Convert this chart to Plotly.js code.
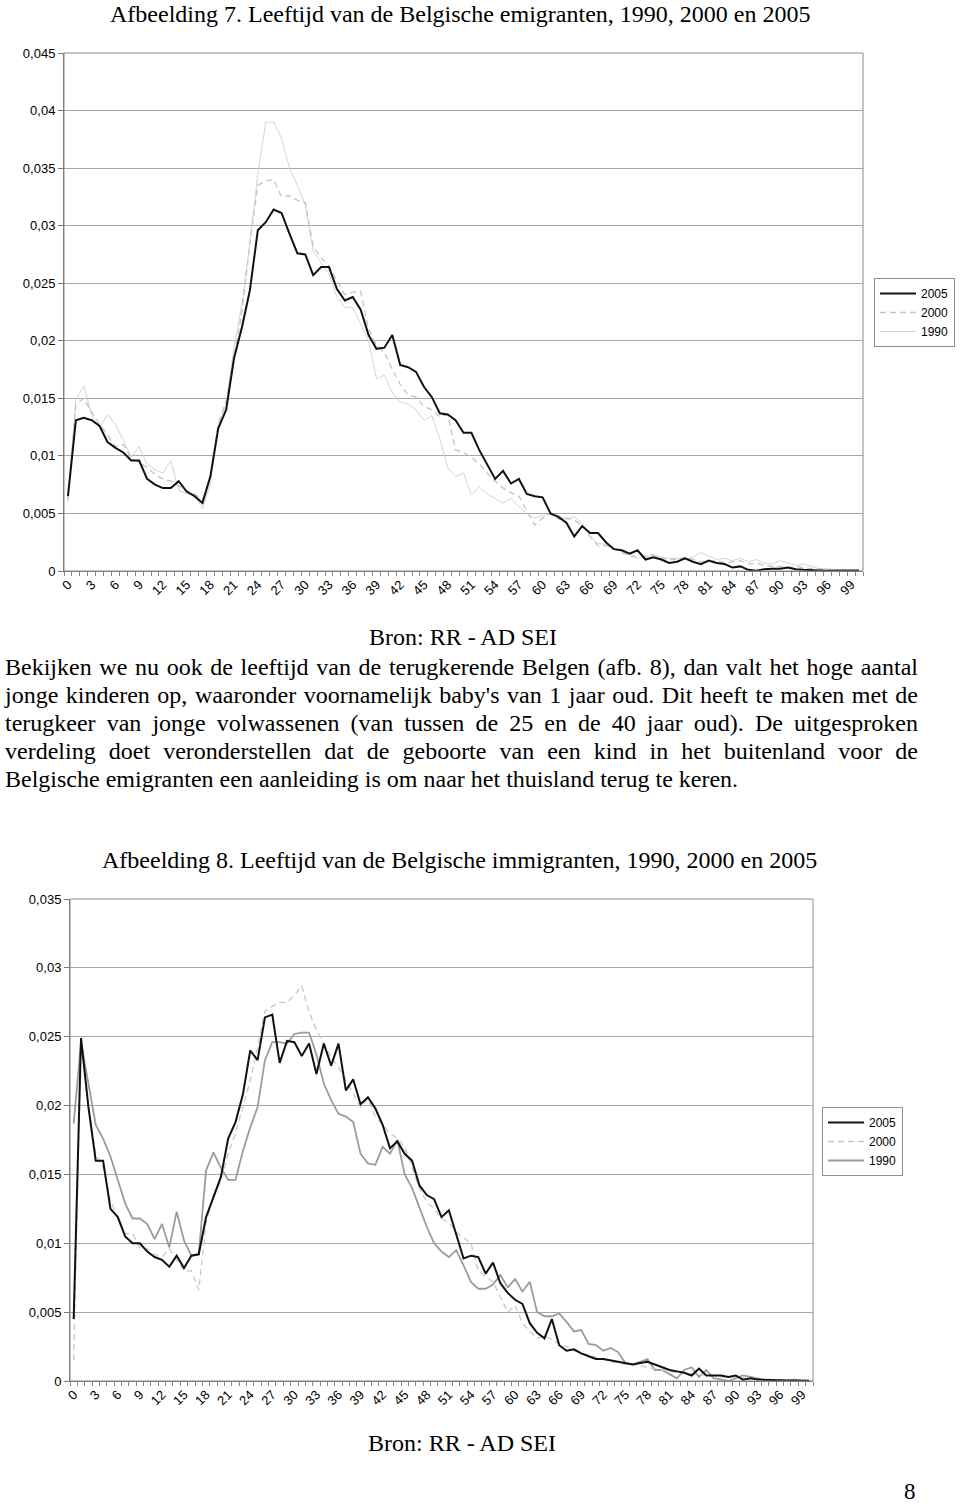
<!DOCTYPE html>
<html>
<head>
<meta charset="utf-8">
<script src="https://cdn.plot.ly/plotly-3.0.1.min.js"></script>
<style>
  html, body { margin:0; padding:0; background:#fff; }
  #page { position:relative; width:960px; height:1506px; overflow:hidden; }
  #chart { position:absolute; left:0; top:0; width:960px; height:1506px; }
  #para { position:absolute; left:5px; top:653px; width:913px; font-family:"Liberation Serif","Times New Roman",serif; font-size:24px; line-height:28px; color:#000; }
  #para div { text-align:justify; text-align-last:justify; white-space:nowrap; }
  #para div.last { text-align-last:left; }
</style>
</head>
<body>
<div id="page">
  <div id="chart"></div>
  <div id="para"></div>
</div>
<script>
// ---------- data ----------
const ages = Array.from({length: 101}, (_, i) => i);
const xTickVals = [0,3,6,9,12,15,18,21,24,27,30,33,36,39,42,45,48,51,54,57,60,63,66,69,72,75,78,81,84,87,90,93,96,99];
const xTickText = xTickVals.map(String);
const series = ['2005', '2000', '1990'];

// Afbeelding 7: emigranten
const emi2005 = [0.0065,0.0131,0.0133,0.0131,0.0126,0.0112,0.0107,0.0103,0.0096,0.0096,
  0.0080,0.0075,0.0072,0.0072,0.0078,0.0069,0.0065,0.0059,0.0082,0.0124,
  0.0140,0.0185,0.0212,0.0244,0.0296,0.0303,0.0314,0.0311,0.0293,0.0276,
  0.0275,0.0257,0.0264,0.0264,0.0245,0.0235,0.0238,0.0227,0.0205,0.0193,
  0.0194,0.0205,0.0179,0.0177,0.0173,0.0160,0.0151,0.0137,0.0136,0.0131,
  0.0120,0.0120,0.0105,0.0093,0.0080,0.0087,0.0076,0.0080,0.0067,0.0065,
  0.0064,0.0050,0.0047,0.0042,0.0030,0.0039,0.0033,0.0033,0.0025,0.0019,
  0.0018,0.0015,0.0018,0.0010,0.0012,0.0010,0.0007,0.0008,0.0011,0.0008,
  0.0006,0.0009,0.0007,0.0006,0.0003,0.0004,0.0001,0.00003,0.00015,0.0002,
  0.0002,0.0003,0.00015,0.0001,0.0001,0.00005,0.00002,0.00001,0.0,0.00005,0.00004];
const emi2000 = [0.0062,0.0145,0.0150,0.0138,0.0128,0.0118,0.0108,0.0110,0.0098,0.0094,
  0.0090,0.0084,0.0080,0.0078,0.0074,0.0070,0.0067,0.0062,0.0082,0.0128,
  0.0148,0.0188,0.0225,0.0285,0.0335,0.0339,0.0340,0.0325,0.0326,0.0322,
  0.0320,0.0282,0.0272,0.0265,0.0252,0.0240,0.0242,0.0243,0.0210,0.0196,
  0.0190,0.0175,0.0162,0.0153,0.0151,0.0143,0.0140,0.0134,0.0136,0.0105,
  0.0103,0.0099,0.0093,0.0085,0.0078,0.0072,0.0068,0.0065,0.0052,0.0040,
  0.0046,0.0050,0.0045,0.0046,0.0044,0.0040,0.0030,0.0022,0.0022,0.0020,
  0.0016,0.0013,0.0012,0.0013,0.0014,0.0011,0.0010,0.0010,0.0012,0.0010,
  0.0008,0.0008,0.0009,0.0007,0.0008,0.0009,0.0006,0.0007,0.0005,0.0004,
  0.0004,0.0003,0.0004,0.0003,0.0002,0.0002,0.0001,0.0001,0.00005,0.00005,0.00003];
const emi1990 = [0.0060,0.0149,0.0161,0.0135,0.0124,0.0136,0.0127,0.0114,0.0099,0.0108,
  0.0093,0.0088,0.0085,0.0096,0.0070,0.0067,0.0066,0.0054,0.0076,0.0125,
  0.0145,0.0195,0.0232,0.0285,0.0345,0.0390,0.0390,0.0376,0.0350,0.0335,
  0.0318,0.0278,0.0268,0.0258,0.0238,0.0229,0.0229,0.0215,0.0200,0.0167,
  0.0170,0.0155,0.0147,0.0145,0.0140,0.0131,0.0135,0.0115,0.0090,0.0082,
  0.0085,0.0066,0.0073,0.0067,0.0063,0.0059,0.0063,0.0056,0.0050,0.0046,
  0.0048,0.0050,0.0048,0.0045,0.0047,0.0042,0.0030,0.0024,0.0023,0.0020,
  0.0017,0.0015,0.0011,0.0012,0.0014,0.0012,0.0011,0.0011,0.0010,0.0012,
  0.0016,0.0013,0.0010,0.0011,0.0009,0.0011,0.0008,0.0010,0.0007,0.0006,
  0.0009,0.0007,0.0005,0.0006,0.0004,0.0002,0.0002,0.0001,0.0001,0.00005,0.00003];

// Afbeelding 8: immigranten
const imm2005 = [0.0045,0.0249,0.0199,0.0160,0.0160,0.0125,0.0119,0.0105,0.0100,0.0100,
  0.0094,0.0090,0.0088,0.0083,0.0091,0.0082,0.0091,0.0092,0.0119,0.0134,
  0.0148,0.0176,0.0188,0.0208,0.0240,0.0233,0.0264,0.0266,0.0231,0.0247,
  0.0246,0.0236,0.0245,0.0223,0.0245,0.0229,0.0245,0.0211,0.0219,0.0201,
  0.0206,0.0198,0.0186,0.0169,0.0174,0.0165,0.0160,0.0142,0.0135,0.0132,
  0.0119,0.0124,0.0107,0.0089,0.0091,0.0090,0.0078,0.0086,0.0071,0.0064,
  0.0059,0.0056,0.0042,0.0035,0.0031,0.0045,0.0026,0.0022,0.0023,0.0020,
  0.0018,0.0016,0.0016,0.0015,0.0014,0.0013,0.0012,0.0013,0.0014,0.0012,
  0.0010,0.0008,0.0007,0.0006,0.0004,0.0009,0.0004,0.0004,0.0004,0.0003,
  0.0004,0.0001,0.0002,0.0001,0.0001,0.00005,0.00005,0.00004,0.00003,0.00003,0.00002];
const imm2000 = [0.0015,0.0248,0.0200,0.0165,0.0155,0.0131,0.0119,0.0107,0.0107,0.0097,
  0.0096,0.0092,0.0090,0.0096,0.0088,0.0080,0.0080,0.0066,0.0115,0.0135,
  0.0145,0.0165,0.0180,0.0200,0.0218,0.0242,0.0269,0.0272,0.0275,0.0275,
  0.0280,0.0287,0.0268,0.0255,0.0245,0.0235,0.0228,0.0218,0.0208,0.0199,
  0.0205,0.0192,0.0186,0.0180,0.0176,0.0170,0.0155,0.0140,0.0130,0.0125,
  0.0118,0.0115,0.0108,0.0104,0.0100,0.0080,0.0076,0.0072,0.0061,0.0050,
  0.0055,0.0042,0.0036,0.0031,0.0033,0.0030,0.0027,0.0025,0.0022,0.0020,
  0.0019,0.0017,0.0016,0.0014,0.0013,0.0012,0.0012,0.0011,0.0010,0.0009,
  0.0008,0.0007,0.0006,0.0006,0.0005,0.0005,0.0004,0.0004,0.0003,0.0003,
  0.0003,0.0003,0.0002,0.0002,0.0001,0.0001,0.00005,0.00005,0.00003,0.00003,0.00002];
const imm1990 = [0.0187,0.0246,0.0216,0.0186,0.0176,0.0163,0.0146,0.0129,0.0118,0.0118,
  0.0114,0.0103,0.0114,0.0097,0.0123,0.0102,0.0091,0.0092,0.0153,0.0166,
  0.0155,0.0146,0.0146,0.0167,0.0184,0.0199,0.0233,0.0246,0.0246,0.0245,
  0.0252,0.0253,0.0253,0.0237,0.0216,0.0204,0.0194,0.0192,0.0188,0.0165,
  0.0158,0.0157,0.0170,0.0165,0.0175,0.0150,0.0140,0.0126,0.0112,0.0100,
  0.0094,0.0090,0.0095,0.0084,0.0072,0.0067,0.0067,0.0070,0.0077,0.0068,
  0.0074,0.0065,0.0072,0.0050,0.0047,0.0047,0.0049,0.0043,0.0036,0.0037,
  0.0027,0.0026,0.0022,0.0024,0.0021,0.0013,0.0012,0.0014,0.0016,0.0008,
  0.0008,0.0005,0.0002,0.0008,0.0010,0.0003,0.0008,0.0002,0.0001,0.0000,
  0.0002,0.0004,0.0003,0.0002,0.0000,0.0000,0.00005,0.00005,0.0001,0.00003,0.00002];

const yTickVals1 = [0,0.005,0.01,0.015,0.02,0.025,0.03,0.035,0.04,0.045];
const yTickText1 = ['0','0,005','0,01','0,015','0,02','0,025','0,03','0,035','0,04','0,045'];
const yTickVals2 = [0,0.005,0.01,0.015,0.02,0.025,0.03,0.035];
const yTickText2 = ['0','0,005','0,01','0,015','0,02','0,025','0,03','0,035'];

const title7 = 'Afbeelding 7. Leeftijd van de Belgische emigranten, 1990, 2000 en 2005';
const title8 = 'Afbeelding 8. Leeftijd van de Belgische immigranten, 1990, 2000 en 2005';
const sourceText = 'Bron: RR - AD SEI';
const pageNumber = '8';
const paragraphLines = [
  "Bekijken we nu ook de leeftijd van de terugkerende Belgen (afb. 8), dan valt het hoge aantal",
  "jonge kinderen op, waaronder voornamelijk baby's van 1 jaar oud. Dit heeft te maken met de",
  "terugkeer van jonge volwassenen (van tussen de 25 en de 40 jaar oud). De uitgesproken",
  "verdeling doet veronderstellen dat de geboorte van een kind in het buitenland voor de",
  "Belgische emigranten een aanleiding is om naar het thuisland terug te keren."
];

// ---------- layout helpers ----------
const W = 960, H = 1506;
const px = v => v / W;
const py = v => 1 - v / H;

const P1 = {l: 64, r: 863, t: 53, b: 571};
const P2 = {l: 70, r: 813, t: 899, b: 1381};

const serif = '"Liberation Serif", "Times New Roman", serif';
const sans = '"Liberation Sans", Arial, sans-serif';

function tr(x, y, name, color, width, dash, xa, ya, legend) {
  return {x: x, y: y, name: name, type: 'scatter', mode: 'lines',
    line: {color: color, width: width, dash: dash},
    xaxis: xa, yaxis: ya, legend: legend, hoverinfo: 'skip'};
}

const data = [
  tr(ages, emi1990, series[2], '#d4d4d4', 1, 'solid', 'x', 'y', 'legend'),
  tr(ages, emi2000, series[1], '#c4c4c4', 1.3, '6px,4px', 'x', 'y', 'legend'),
  tr(ages, emi2005, series[0], '#111111', 2, 'solid', 'x', 'y', 'legend'),
  tr(ages, imm1990, series[2], '#9c9c9c', 1.8, 'solid', 'x2', 'y2', 'legend2'),
  tr(ages, imm2000, series[1], '#c8c8c8', 1.3, '6px,4px', 'x2', 'y2', 'legend2'),
  tr(ages, imm2005, series[0], '#111111', 2, 'solid', 'x2', 'y2', 'legend2')
];

function xaxis(P, anchor) {
  return {
    domain: [px(P.l), px(P.r)], anchor: anchor, range: [-0.5, 100.5],
    tickmode: 'array', tickvals: xTickVals, ticktext: xTickText, tickangle: -45,
    ticks: '', showline: true, linecolor: '#777', linewidth: 1,
    showgrid: false, zeroline: false, fixedrange: true,
    tickfont: {family: sans, size: 13, color: '#000'},
    minor: {ticks: 'outside', tickmode: 'linear', tick0: 0.5, dtick: 1, ticklen: 4, tickcolor: '#888', tickwidth: 1, showgrid: false}
  };
}
function yaxis(P, anchor, maxv, tv, tt) {
  return {
    domain: [py(P.b), py(P.t)], anchor: anchor, range: [0, maxv],
    tickmode: 'array', tickvals: tv, ticktext: tt,
    ticks: 'outside', ticklen: 5, tickcolor: '#777', showline: true, linecolor: '#777', linewidth: 1,
    showgrid: true, gridcolor: '#a8a8a8', gridwidth: 1, zeroline: false, fixedrange: true,
    tickfont: {family: sans, size: 13, color: '#000'}
  };
}

function ann(text, x, y, size, xanchor) {
  return {text: text, x: px(x), y: py(y), xref: 'paper', yref: 'paper',
    xanchor: xanchor || 'left', yanchor: 'middle', showarrow: false,
    font: {family: serif, size: size, color: '#000'}};
}

const legendStyle = {
  bgcolor: '#fff', bordercolor: '#909090', borderwidth: 1,
  font: {family: sans, size: 12, color: '#000'},
  traceorder: 'reversed', itemwidth: 36, tracegroupgap: 0,
  xanchor: 'left', yanchor: 'top', itemclick: false, itemdoubleclick: false
};

const layout = {
  width: W, height: H, margin: {l: 0, r: 0, t: 0, b: 0},
  paper_bgcolor: '#fff', plot_bgcolor: '#fff', showlegend: true,
  font: {family: sans, size: 12, color: '#000'},
  xaxis: xaxis(P1, 'y'),
  yaxis: yaxis(P1, 'x', 0.045, yTickVals1, yTickText1),
  xaxis2: xaxis(P2, 'y2'),
  yaxis2: yaxis(P2, 'x2', 0.035, yTickVals2, yTickText2),
  legend: Object.assign({x: px(874), y: py(278)}, legendStyle),
  legend2: Object.assign({x: px(822), y: py(1107)}, legendStyle),
  shapes: [
    {type: 'rect', xref: 'paper', yref: 'paper', x0: px(P1.l), x1: px(P1.r), y0: py(P1.b), y1: py(P1.t), line: {color: '#8a8a8a', width: 1}},
    {type: 'rect', xref: 'paper', yref: 'paper', x0: px(P2.l), x1: px(P2.r), y0: py(P2.b), y1: py(P2.t), line: {color: '#8a8a8a', width: 1}}
  ],
  annotations: [
    ann(title7, 108, 14, 24),
    ann(sourceText, 463, 637, 24, 'center'),
    ann(title8, 100, 860, 24),
    ann(sourceText, 462, 1443, 24, 'center'),
    ann(pageNumber, 910, 1491, 23, 'center')
  ]
};

Plotly.newPlot('chart', data, layout, {staticPlot: true, displayModeBar: false});

const para = document.getElementById('para');
paragraphLines.forEach((t, i) => {
  const d = document.createElement('div');
  d.textContent = t;
  if (i === paragraphLines.length - 1) d.className = 'last';
  para.appendChild(d);
});
</script>
</body>
</html>
